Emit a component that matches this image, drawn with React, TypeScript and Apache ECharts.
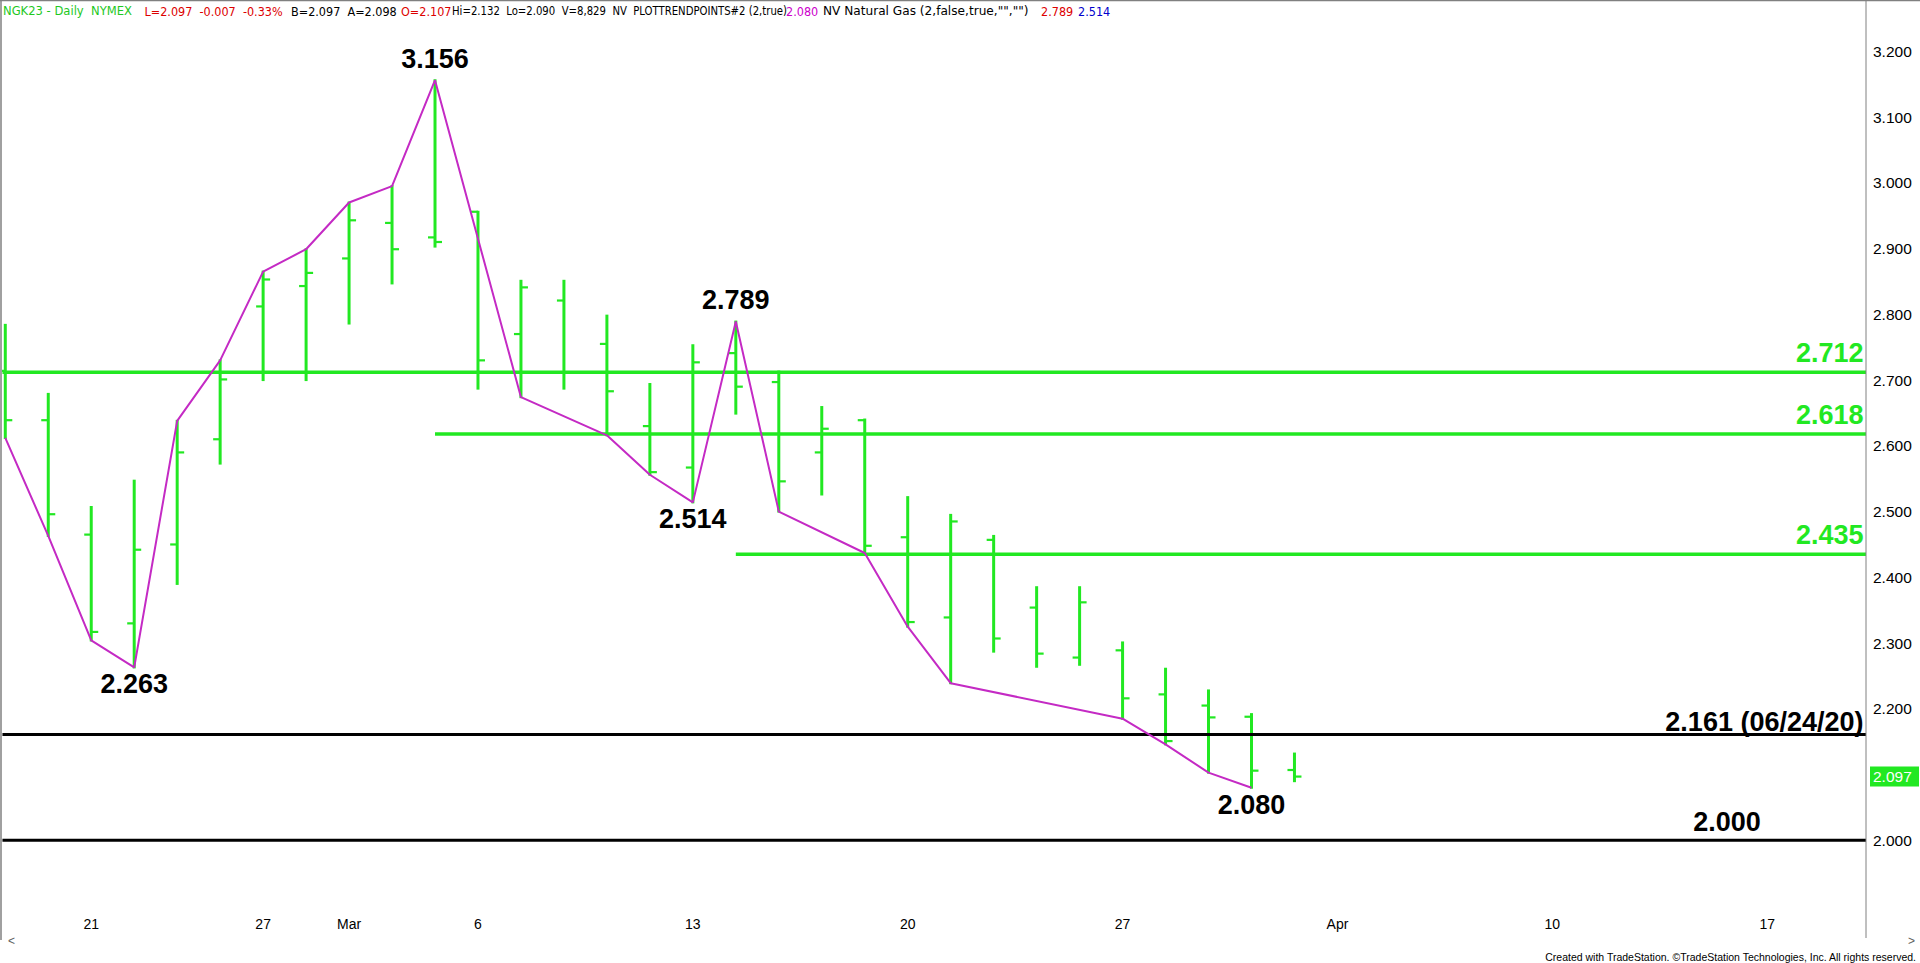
import React, { useEffect, useRef } from "react";
import * as echarts from "echarts";

// ---------- data ----------
const xTickIdx = [2, 6, 8, 11, 16, 21, 26, 31, 36, 41];
const xTickText = ["21", "27", "Mar", "6", "13", "20", "27", "Apr", "10", "17"];
const yTicks = [2.0, 2.1, 2.2, 2.3, 2.4, 2.5, 2.6, 2.7, 2.8, 2.9, 3.0, 3.1, 3.2];

// daily OHLC bars, index 0 = Feb 16
const barOpen = [2.714, 2.639, 2.465, 2.330, 2.450, 2.610, 2.812, 2.843, 2.885, 2.939, 2.917, 2.956, 2.770, 2.821, 2.755, 2.630, 2.567, 2.741, 2.697, 2.590, 2.639, 2.461, 2.339, 2.457, 2.354, 2.278, 2.289, 2.222, 2.205, 2.188, 2.107];
const barHigh = [2.784, 2.679, 2.507, 2.547, 2.638, 2.730, 2.865, 2.899, 2.970, 2.995, 3.156, 2.956, 2.851, 2.851, 2.798, 2.694, 2.753, 2.789, 2.713, 2.659, 2.640, 2.522, 2.495, 2.463, 2.385, 2.385, 2.301, 2.261, 2.228, 2.192, 2.132];
const barLow = [2.612, 2.463, 2.304, 2.263, 2.390, 2.573, 2.700, 2.700, 2.786, 2.847, 2.903, 2.687, 2.674, 2.687, 2.616, 2.556, 2.514, 2.649, 2.500, 2.526, 2.437, 2.325, 2.239, 2.287, 2.264, 2.267, 2.185, 2.146, 2.103, 2.080, 2.090];
const barClose = [2.639, 2.496, 2.317, 2.442, 2.590, 2.701, 2.853, 2.863, 2.943, 2.899, 2.910, 2.730, 2.841, 2.712, 2.683, 2.560, 2.727, 2.690, 2.546, 2.626, 2.448, 2.332, 2.485, 2.307, 2.284, 2.362, 2.216, 2.151, 2.187, 2.106, 2.097];

// PlotTrendPoints line
const trendIdx = [0, 1, 2, 3, 4, 5, 6, 7, 8, 9, 10, 12, 14, 15, 16, 17, 18, 20, 21, 22, 26, 27, 28, 29];
const trendVal = [2.612, 2.463, 2.304, 2.263, 2.638, 2.730, 2.865, 2.899, 2.970, 2.995, 3.156, 2.674, 2.616, 2.556, 2.514, 2.789, 2.500, 2.437, 2.325, 2.239, 2.185, 2.146, 2.103, 2.080];

// horizontal levels
const levelValues = [2.712, 2.618, 2.435, 2.161, 2.0];
const levelFromIdx: (number | null)[] = [null, 10, 17, null, null];
const levelText = ["2.712", "2.618", "2.435", "2.161 (06/24/20)", "2.000"];
const levelKind = ["retrace", "retrace", "retrace", "support", "round"];

// pivot labels
const pivotIdx = [10, 3, 17, 16, 29];
const pivotVal = [3.156, 2.263, 2.789, 2.514, 2.08];
const pivotAbove = [true, false, true, false, false];

const lastPrice = 2.097;

const headerText = [
  "NGK23 - Daily  NYMEX",
  "L=2.097  -0.007  -0.33%",
  "B=2.097  A=2.098",
  "O=2.107",
  "Hi=2.132  Lo=2.090  V=8,829  NV  PLOTTRENDPOINTS#2 (2,true)",
  "2.080",
  'NV Natural Gas (2,false,true,"","")',
  "2.789",
  "2.514",
];

// ---------- layout / style ----------
const GREEN = "#22e822";
const MAGENTA = "#c42ac4";
const FONT = "'Liberation Sans', Arial, sans-serif";
const NARROW = "'Liberation Sans Narrow', 'Arial Narrow', 'DejaVu Sans Condensed', sans-serif";
const X_MIN = -0.066;
const X_MAX = 43.3;
const Y_MIN = 1.888;
const Y_MAX = 3.275;
const GRID_LEFT = 2.45;
const GRID_RIGHT = 54;
const GRID_TOP = 2;
const GRID_BOTTOM = 49;
const headerX = [3, 144.5, 291, 401, 452, 786, 823, 1041, 1078];
const headerScaleX = [1.03, 1, 1, 1, 0.9, 1, 1.08, 1, 1];
const headerColor = ["#1ec81e", "#dd0000", "#000", "#dd0000", "#000", "#cc00cc", "#000", "#dd0000", "#0000cc"];

export default function App() {
  const ref = useRef<HTMLDivElement>(null);

  useEffect(() => {
    document.body.style.margin = "0";
    const el = ref.current!;
    const chart = echarts.init(el, null, { renderer: "svg" });

    const series: any[] = [];
    series.push({
      type: "custom",
      z: 2,
      clip: true,
      data: barOpen.map((o, i) => [i, o, barHigh[i], barLow[i], barClose[i]]),
      encode: { x: 0, y: [1, 2, 3, 4] },
      renderItem: (params: any, api: any) => {
        const x = api.value(0);
        const o = api.coord([x, api.value(1)]);
        const h = api.coord([x, api.value(2)]);
        const l = api.coord([x, api.value(3)]);
        const c = api.coord([x, api.value(4)]);
        return {
          type: "group",
          children: [
            { type: "line", shape: { x1: h[0], y1: h[1] - 1, x2: l[0], y2: l[1] + 1 }, style: { stroke: GREEN, lineWidth: 3 } },
            { type: "line", shape: { x1: o[0] - 7, y1: o[1], x2: o[0], y2: o[1] }, style: { stroke: GREEN, lineWidth: 2.2 } },
            { type: "line", shape: { x1: c[0], y1: c[1], x2: c[0] + 7, y2: c[1] }, style: { stroke: GREEN, lineWidth: 2.2 } },
          ],
        };
      },
    });
    levelValues.forEach((v, i) => {
      const from = levelFromIdx[i] ?? X_MIN;
      const isGreen = levelKind[i] === "retrace";
      series.push({
        type: "line",
        z: 3,
        silent: true,
        symbol: "none",
        data: [[from, v], [X_MAX, v]],
        lineStyle: { color: isGreen ? GREEN : "#000", width: isGreen ? 3.5 : 3 },
      });
    });
    series.push({
      type: "line",
      z: 4,
      silent: true,
      symbol: "none",
      data: trendIdx.map((x, i) => [x, trendVal[i]]),
      lineStyle: { color: MAGENTA, width: 2 },
    });

    chart.setOption({
      animation: false,
      backgroundColor: "#ffffff",
      grid: { left: GRID_LEFT, right: GRID_RIGHT, top: GRID_TOP, bottom: GRID_BOTTOM, containLabel: false },
      xAxis: {
        type: "value",
        min: X_MIN,
        max: X_MAX,
        splitLine: { show: false },
        axisLine: { show: false },
        axisTick: { show: false },
        axisLabel: {
          customValues: xTickIdx,
          formatter: (v: number) => {
            const k = xTickIdx.indexOf(Math.round(v));
            return k >= 0 ? xTickText[k] : "";
          },
          fontSize: 14,
          fontFamily: FONT,
          color: "#000",
          margin: 3,
        },
      },
      yAxis: {
        type: "value",
        position: "right",
        min: Y_MIN,
        max: Y_MAX,
        splitLine: { show: false },
        axisLine: { show: false },
        axisTick: { show: false },
        axisLabel: {
          customValues: yTicks,
          formatter: (v: number) => v.toFixed(3),
          fontSize: 15.5,
          fontFamily: FONT,
          color: "#000",
          margin: 7,
          align: "left",
        },
      },
      series,
    });

    const W = el.clientWidth;
    const H = el.clientHeight;
    const px = (x: number, y: number) => chart.convertToPixel({ gridIndex: 0 }, [x, y]) as number[];
    const plotRight = W - GRID_RIGHT;
    const plotBottom = H - GRID_BOTTOM;
    const g: any[] = [];

    // frame
    g.push({ type: "line", z: 50, shape: { x1: 0, y1: 0.5, x2: W, y2: 0.5 }, style: { stroke: "#808080", lineWidth: 1.5 } });
    g.push({ type: "line", z: 50, shape: { x1: 1, y1: 0, x2: 1, y2: plotBottom + 26 }, style: { stroke: "#808080", lineWidth: 1.5 } });
    g.push({ type: "line", z: 50, shape: { x1: plotRight, y1: 0, x2: plotRight, y2: plotBottom + 24 }, style: { stroke: "#808080", lineWidth: 1 } });
    g.push({ type: "text", z: 50, x: 8, y: plotBottom + 27, style: { text: "<", fontSize: 12, fontFamily: FONT, fill: "#606060", verticalAlign: "middle" } });
    g.push({ type: "text", z: 50, x: W - 12, y: plotBottom + 27, style: { text: ">", fontSize: 12, fontFamily: FONT, fill: "#606060", verticalAlign: "middle" } });

    // header
    headerText.forEach((t, i) => {
      g.push({
        type: "text",
        z: 50,
        x: headerX[i],
        y: 11,
        scaleX: headerScaleX[i],
        style: { text: t, fontSize: 12.5, fontFamily: NARROW, fill: headerColor[i], verticalAlign: "middle", align: "left" },
      });
    });

    // level labels
    levelValues.forEach((v, i) => {
      const p = px(X_MAX, v);
      const isGreen = levelKind[i] === "retrace";
      const isRound = levelKind[i] === "round";
      const dy = levelKind[i] === "support" ? -12.6 : isRound ? -18.4 : -19.5;
      g.push({
        type: "text",
        z: 60,
        x: isRound ? plotRight - 139 : plotRight - 2.5,
        y: p[1] + dy,
        style: {
          text: levelText[i],
          fontSize: 27,
          fontWeight: "bold",
          fontFamily: FONT,
          fill: isGreen ? GREEN : "#000",
          align: isRound ? "center" : "right",
          verticalAlign: "middle",
        },
      });
    });

    // pivot labels
    pivotIdx.forEach((x, i) => {
      const p = px(x, pivotVal[i]);
      g.push({
        type: "text",
        z: 60,
        x: p[0],
        y: p[1] + (pivotAbove[i] ? -21.5 : 16.8),
        style: {
          text: pivotVal[i].toFixed(3),
          fontSize: 27,
          fontWeight: "bold",
          fontFamily: FONT,
          fill: "#000",
          align: "center",
          verticalAlign: "middle",
        },
      });
    });

    // last price marker
    const lp = px(X_MAX, lastPrice);
    g.push({ type: "rect", z: 70, shape: { x: plotRight + 4, y: lp[1] - 10, width: W - plotRight - 5, height: 20 }, style: { fill: GREEN } });
    g.push({ type: "text", z: 71, x: plotRight + 7, y: lp[1], style: { text: lastPrice.toFixed(3), fontSize: 15.5, fontFamily: FONT, fill: "#ffffff", verticalAlign: "middle" } });

    // copyright
    g.push({
      type: "text",
      z: 50,
      x: W - 4,
      y: H - 6,
      style: { text: "Created with TradeStation. \u00A9TradeStation Technologies, Inc. All rights reserved.", fontSize: 10.5, fontFamily: FONT, fill: "#000", align: "right", verticalAlign: "middle" },
    });

    chart.setOption({ graphic: { elements: g } });

    return () => {
      chart.dispose();
    };
  }, []);

  return <div ref={ref} style={{ position: "fixed", left: 0, top: 0, width: "100vw", height: "100vh" }} />;
}
